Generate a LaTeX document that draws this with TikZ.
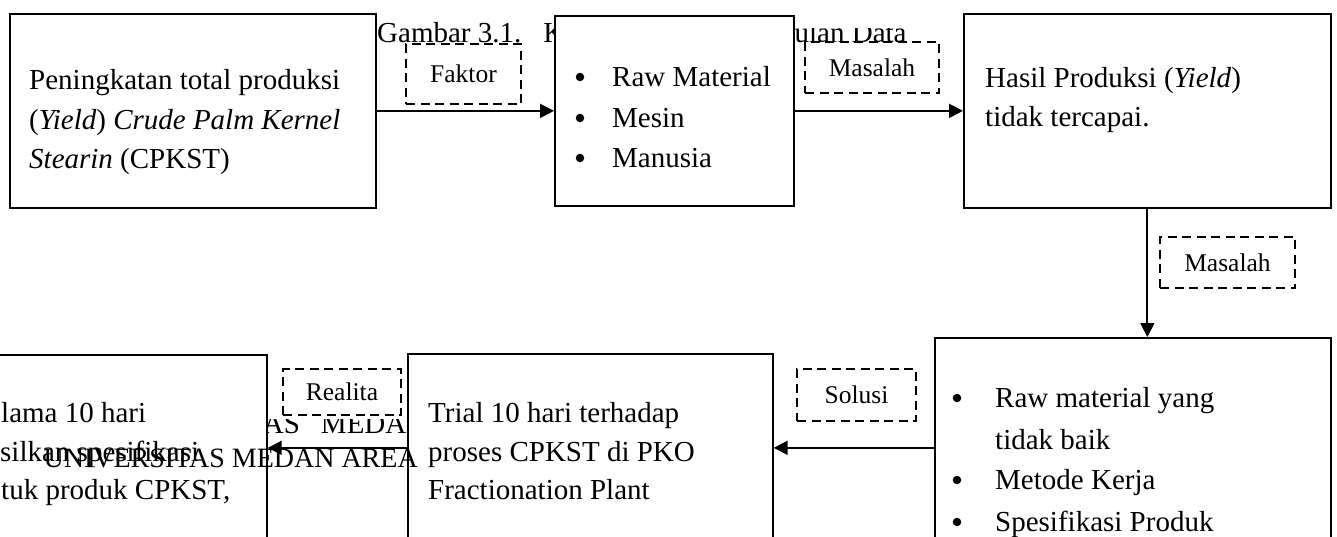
\documentclass[tikz,border=0pt]{standalone}
\usepackage{fontspec}
\setmainfont{Liberation Serif}
\usetikzlibrary{arrows.meta}
\begin{document}
\begin{tikzpicture}[x=1pt,y=-1pt,
  box/.style={draw,line width=1.7pt,fill=white,rectangle,inner sep=0pt,anchor=north west},
  lbl/.style={draw,dash pattern=on 9pt off 5.5pt,line width=2pt,fill=white,rectangle,inner sep=0pt,font=\fontsize{25.5}{30}\selectfont},
  txt/.style={anchor=base west,inner sep=0pt,font=\fontsize{29}{35}\selectfont},
  dot/.style={circle,fill=black,inner sep=0pt,minimum size=8.5pt},
  arr/.style={line width=1.8pt,-{Triangle[length=14pt,width=14pt]}}]
\useasboundingbox (0,0) rectangle (1337,536);
\clip (0,0) rectangle (1337,536);

% caption behind the boxes
\begin{scope}
\clip (0,0) rectangle (553,60) (793,28) rectangle (1000,60);
\node[txt] (title) at (377,42) {Gambar 3.1.\hspace{22pt}Kerangka\hspace{29pt}Pengumpulan Data};
\end{scope}
% partly hidden watermark
\begin{scope}
\clip (0,419) rectangle (1337,445);
\node[txt] (wmb) at (112,433) {UNIVERSITAS\hspace{21pt}MEDAN AREA};
\end{scope}

% dashed labels
\node[lbl,minimum width=115pt,minimum height=60pt] (lf) at (463.5,74) {Faktor};
\node[lbl,minimum width=134pt,minimum height=51pt] (lm1) at (872,67.5) {Masalah};
\node[lbl,minimum width=135pt,minimum height=51pt] (lm2) at (1227.5,262.5) {Masalah};
\node[lbl,minimum width=119pt,minimum height=52pt] (ls) at (856.5,395) {Solusi};
\node[lbl,minimum width=118pt,minimum height=46pt] (lr) at (342,392) {Realita};

% boxes
\node[box,minimum width=366pt,minimum height=194pt] (A) at (9,13) {};
\node[box,minimum width=239pt,minimum height=190pt] (B) at (554,15) {};
\node[box,minimum width=367pt,minimum height=194pt] (C) at (963,13) {};
\node[box,minimum width=396pt,minimum height=220pt] (E) at (934,337) {};
\node[box,minimum width=365pt,minimum height=188pt] (F) at (407,353) {};
\node[box,minimum width=366pt,minimum height=186pt] (D) at (-100,354) {};

% box texts
\node[txt] (a1) at (29,89) {Peningkatan total produksi};
\node[txt] (a2) at (29,129) {(\textit{Yield}) \textit{Crude Palm Kernel}};
\node[txt] (a3) at (29,168) {\textit{Stearin} (CPKST)};

\node[dot] (bd1) at (580,77) {};
\node[dot] (bd2) at (580,118) {};
\node[dot] (bd3) at (580,158) {};
\node[txt] (b1) at (612,86) {Raw Material};
\node[txt] (b2) at (612,127) {Mesin};
\node[txt] (b3) at (612,167) {Manusia};

\node[txt] (c1) at (985,87) {Hasil Produksi (\textit{Yield})};
\node[txt] (c2) at (985,126) {tidak tercapai.};

\node[dot] (ed1) at (957,398) {};
\node[dot] (ed3) at (957,480) {};
\node[dot] (ed4) at (957,522) {};
\node[txt] (e1) at (995,407) {Raw material yang};
\node[txt] (e2) at (995,449) {tidak baik};
\node[txt] (e3) at (995,489) {Metode Kerja};
\node[txt] (e4) at (995,531) {Spesifikasi Produk};

\node[txt] (f1) at (428,422) {Trial 10 hari terhadap};
\node[txt] (f2) at (428,461) {proses CPKST di PKO};
\node[txt] (f3) at (428,499) {Fractionation Plant};

\node[txt] (d1) at (1,422) {lama 10 hari};
\node[txt] (d2) at (0,461) {silkan spesifikasi};
\node[txt] (d3) at (1,499) {tuk produk CPKST,};

% connectors
\draw[arr] (A.east |- B.west) -- (B.west);
\draw[arr] (B.east) -- (C.west |- B.east);
\draw[arr] (C.south) -- (C.south |- E.north);
\draw[arr] (E.west) -- (F.east);
\draw[arr] (F.west) -- (D.east);

% watermark on top
\node[txt,anchor=base east,font=\fontsize{28}{34}\selectfont] (wm) at (418,467) {UNIVERSITAS MEDAN AREA};
\end{tikzpicture}
\end{document}
